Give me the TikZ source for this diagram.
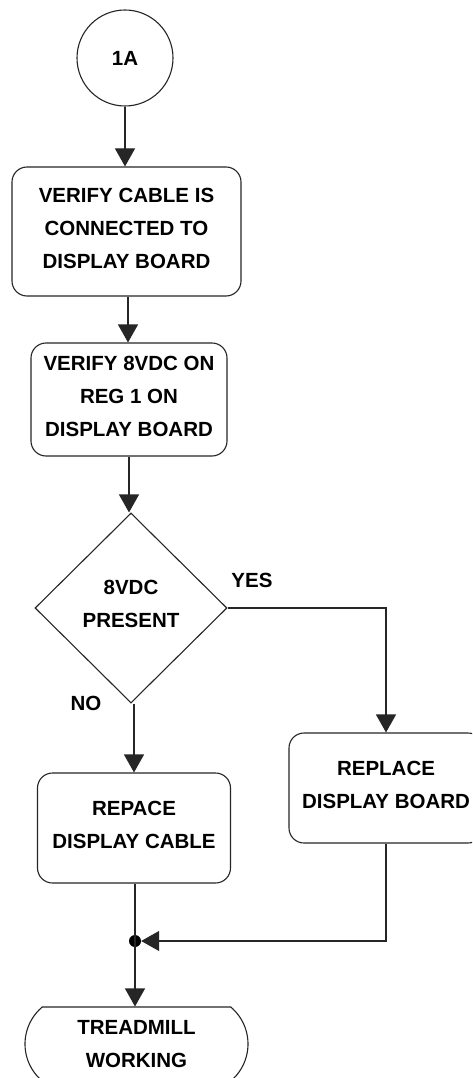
\documentclass[tikz,border=0pt]{standalone}
\usepackage{fontspec}
\setmainfont{Liberation Sans}
\usetikzlibrary{shapes.geometric,shapes.misc,arrows.meta}

\tikzset{
  flow/.style={draw=black!85, line width=1.1pt},
  txt/.style={font=\bfseries\fontsize{20.5}{33}\selectfont, align=center, text=black},
  % extra depth on the last line lifts the text block a little
  lift/.style={execute at end node={\rule[-#1]{0pt}{#1}}},
  stepbox/.style={flow, txt, rectangle, rounded corners=15pt, inner sep=0pt, lift=6pt},
  arr/.style={flow, -{Triangle[length=18pt,width=20pt]}},
  lbl/.style={font=\bfseries\fontsize{20.5}{24}\selectfont, inner sep=0pt},
}

\begin{document}
\begin{tikzpicture}[x=1pt,y=-1pt]
  \useasboundingbox (0,0) rectangle (472,1078);
  \fill[white] (0,0) rectangle (472,1078);
  \clip (0,0) rectangle (472,1078);

  % connector at the top
  \node[flow, txt, circle, minimum size=96pt, inner sep=0pt] (start) at (125,58) {1A};

  % checks
  \node[stepbox, minimum width=229pt, minimum height=129pt] (cable) at (126.5,231.5)
    {VERIFY CABLE IS\\CONNECTED TO\\DISPLAY BOARD};
  \node[stepbox, minimum width=196pt, minimum height=113pt] (reg) at (129,399.5)
    {VERIFY 8VDC ON\\REG 1 ON\\DISPLAY BOARD};

  % decision
  \node[flow, txt, diamond, minimum width=192pt, minimum height=190pt, inner sep=0pt, lift=8pt] (dec) at (131,608)
    {8VDC\\PRESENT};
  \node[lbl] (yes) at (252,580) {YES};
  \node[lbl] (no) at (86,703) {NO};

  % repairs
  \node[stepbox, minimum width=193pt, minimum height=110pt] (cablefix) at (134,828)
    {REPACE\\DISPLAY CABLE};
  \node[stepbox, minimum width=194pt, minimum height=110pt] (boardfix) at (386,788)
    {REPLACE\\DISPLAY BOARD};

  % merge point and end
  \node[circle, fill=black, minimum size=12pt, inner sep=0pt] (join) at (135,941) {};
  \node[flow, txt, rounded rectangle, rounded rectangle arc length=100,
        minimum width=223pt, minimum height=74pt, inner sep=0pt] (done) at (136.5,1044)
    {TREADMILL\\WORKING};

  % connectors
  \draw[arr] (start.south) -- (start.south |- cable.north);
  \draw[arr] (cable.south -| 128,0) -- (reg.north -| 128,0);
  \draw[arr] (reg.south) -- (reg.south |- dec.north);
  \draw[arr] (dec.south -| 134,0) -- (cablefix.north -| 134,0);
  \draw[arr] (dec.east) -| (boardfix.north);
  \draw[flow] (cablefix.south -| join) -- (join.center);
  \draw[arr] (join.center) -- (join.center |- done.north);
  \draw[arr] (boardfix.south) |- (join.east);
\end{tikzpicture}
\end{document}
